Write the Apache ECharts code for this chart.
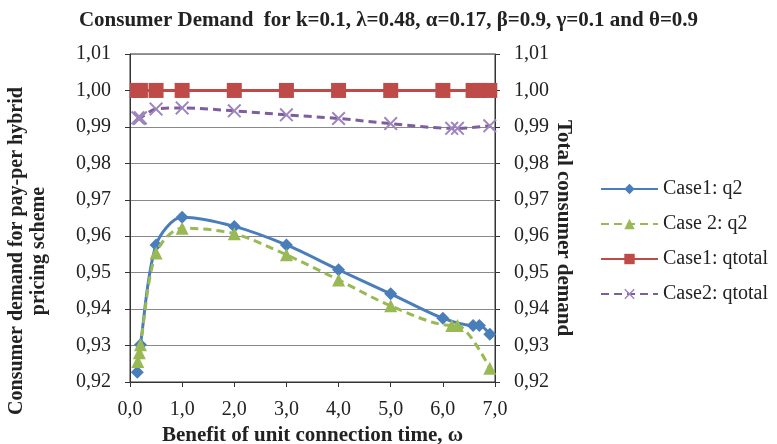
<!DOCTYPE html>
<html>
<head>
<meta charset="utf-8">
<script src="https://cdn.jsdelivr.net/npm/echarts@6/dist/echarts.min.js"></script>
<style>
  html, body { margin: 0; padding: 0; background: #fff; }
  #chart { width: 777px; height: 444px; }
</style>
</head>
<body>
<div id="chart"></div>
<script>
// data
const case1Omega = [0.14, 0.2, 0.5, 1, 2, 3, 4, 5, 6, 6.58, 6.7, 6.9];
const case1Q2 = [0.9227, 0.9302, 0.9576, 0.9652, 0.9627, 0.9576, 0.9508, 0.9442, 0.9375, 0.9355, 0.9355, 0.9331];
const case1Qtotal = [1, 1, 1, 1, 1, 1, 1, 1, 1, 1, 1, 1];

const case2Omega = [0.15, 0.18, 0.2, 0.5, 1, 2, 3, 4, 5, 6.17, 6.28, 6.9];
const case2Q2 = [0.9256, 0.9280, 0.9302, 0.9554, 0.9622, 0.9607, 0.9549, 0.9480, 0.9409, 0.9355, 0.9355, 0.9238];
const case2Qtotal = [0.9925, 0.9923, 0.9925, 0.9949, 0.9952, 0.9944, 0.9933, 0.9923, 0.9909, 0.9896, 0.9896, 0.9903];

const seriesNames = ['Case1: q2', 'Case 2: q2', 'Case1: qtotal', 'Case2: qtotal'];

const pairs = (xs, ys) => xs.map((x, i) => [x, ys[i]]);
const serif = '"Liberation Serif", "Times New Roman", serif';
const comma = (d) => (v) => v.toFixed(d).replace('.', ',');
// X marker for the second qtotal series
const crossPath = 'path://M0,1 L1,0 L5,4 L9,0 L10,1 L6,5 L10,9 L9,10 L5,6 L1,10 L0,9 L4,5 Z';

const myChart = echarts.init(document.getElementById('chart'));

const yAxisBase = {
  type: 'value',
  min: 0.92,
  max: 1.01,
  interval: 0.01,
  axisLine: { show: true, lineStyle: { color: '#333', width: 1 } },
  axisTick: { show: true, inside: false, length: 5, lineStyle: { color: '#333' } },
  axisLabel: { formatter: comma(2), fontFamily: serif, fontSize: 20, color: '#222', margin: 19 },
  nameLocation: 'middle'
};

myChart.setOption({
  animation: false,
  title: {
    text: 'Consumer Demand  for k=0.1, \u03bb=0.48, \u03b1=0.17, \u03b2=0.9, \u03b3=0.1 and \u03b8=0.9',
    left: 'center',
    top: 5,
    textStyle: { fontFamily: serif, fontSize: 21, fontWeight: 'bold', color: '#222' }
  },
  grid: {
    left: 130, right: 282, top: 54, bottom: 62,
    outerBoundsMode: 'none',
    show: true, borderColor: '#333', borderWidth: 1
  },
  legend: {
    orient: 'vertical',
    left: 595,
    top: 174,
    itemWidth: 57,
    itemHeight: 13,
    itemGap: 15,
    textStyle: { fontFamily: serif, fontSize: 20, color: '#222' },
    data: seriesNames
  },
  xAxis: {
    type: 'value',
    min: 0,
    max: 7,
    interval: 1,
    splitLine: { show: false },
    axisLine: { lineStyle: { color: '#333' } },
    axisTick: { show: true, length: 5, lineStyle: { color: '#333' } },
    axisLabel: { formatter: comma(1), fontFamily: serif, fontSize: 20, color: '#222', margin: 18 },
    name: 'Benefit of unit connection time, \u03c9',
    nameLocation: 'middle',
    nameGap: 43,
    nameTextStyle: { fontFamily: serif, fontSize: 21, fontWeight: 'bold', color: '#222' }
  },
  yAxis: [
    Object.assign({}, yAxisBase, {
      position: 'left',
      splitLine: { show: true, lineStyle: { color: '#888', width: 1 } },
      name: 'Consumer demand for pay-per hybrid\npricing scheme',
      nameGap: 80,
      nameTextStyle: {
        fontFamily: serif, fontSize: 20, fontWeight: 'bold', color: '#222',
        lineHeight: 22, padding: [0, 66, 0, 0]
      }
    }),
    Object.assign({}, yAxisBase, {
      position: 'right',
      splitLine: { show: false },
      name: 'Total consumer demand',
      nameRotate: -90,
      nameGap: 57,
      nameTextStyle: {
        fontFamily: serif, fontSize: 21, fontWeight: 'bold', color: '#222',
        padding: [0, 0, 0, 20]
      }
    })
  ],
  series: [
    {
      name: seriesNames[0],
      type: 'line',
      smooth: 0.3,
      data: pairs(case1Omega, case1Q2),
      symbol: 'diamond',
      symbolSize: 13,
      lineStyle: { color: '#4a7ebb', width: 3 },
      itemStyle: { color: '#4a7ebb' },
      z: 3
    },
    {
      name: seriesNames[1],
      type: 'line',
      smooth: 0.3,
      data: pairs(case2Omega, case2Q2),
      symbol: 'triangle',
      symbolSize: 13,
      lineStyle: { color: '#98b954', width: 3, type: [8, 5] },
      itemStyle: { color: '#98b954' },
      z: 4
    },
    {
      name: seriesNames[2],
      type: 'line',
      yAxisIndex: 1,
      data: pairs(case1Omega, case1Qtotal),
      symbol: 'rect',
      symbolSize: 15,
      lineStyle: { color: '#be4b48', width: 3 },
      itemStyle: { color: '#be4b48' }
    },
    {
      name: seriesNames[3],
      type: 'line',
      yAxisIndex: 1,
      smooth: 0.3,
      data: pairs(case2Omega, case2Qtotal),
      symbol: crossPath,
      symbolSize: 14,
      lineStyle: { color: '#7d5fa0', width: 3, type: [8, 5] },
      itemStyle: { color: '#9d86bd' }
    }
  ]
});

window.onresize = function () {
  myChart.resize();
};
</script>
</body>
</html>
